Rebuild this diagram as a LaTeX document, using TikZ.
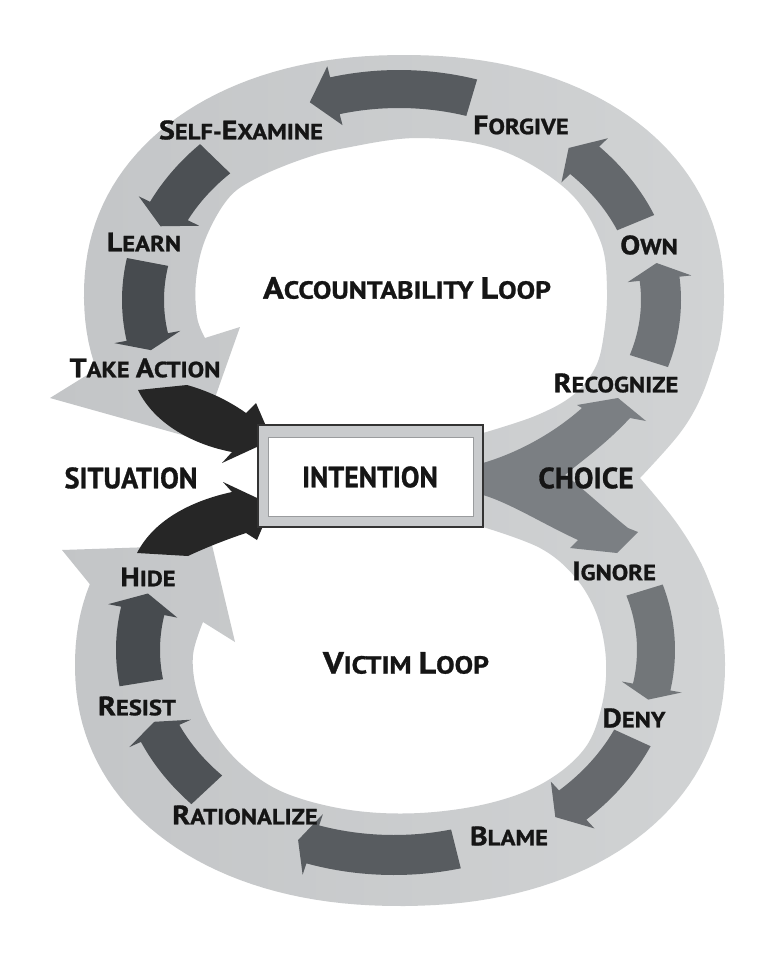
\documentclass[tikz,border=0pt]{standalone}
\usepackage{graphicx}
\usepackage{fontspec}
\setmainfont{PT Sans}[BoldFeatures={FakeBold=1}]
\definecolor{band}{HTML}{C9CBCD}
\definecolor{bandL}{HTML}{C3C5C7}
\definecolor{bandR}{HTML}{D1D3D4}
\definecolor{txt}{HTML}{151515}
\definecolor{blk}{HTML}{262626}
\definecolor{boxline}{HTML}{333333}
\definecolor{innerline}{HTML}{9A9C9E}
\definecolor{chc}{HTML}{7B7F83}
\definecolor{aA}{HTML}{6F7377}
\definecolor{aB}{HTML}{64686C}
\definecolor{aC}{HTML}{575B5F}
\definecolor{aD}{HTML}{4C5054}
\definecolor{aE}{HTML}{474B4F}
\definecolor{aF}{HTML}{727679}
\definecolor{aG}{HTML}{66696D}
\definecolor{aH}{HTML}{585C60}
\definecolor{aI}{HTML}{4E5256}
% curved block arrow along an ellipse: style, cx, cy, rx, ry, t start, t head base, t tip, half width
\newcommand\carr[9]{%
  \fill[#1] plot[domain=#6:#7,samples=24] ({#2+(#4+#9)*cos(\x)},{#3+(#5+#9)*sin(\x)})
   -- ({#2+(#4+1.6*#9)*cos(#7)},{#3+(#5+1.6*#9)*sin(#7)})
   -- ({#2+#4*cos(#8)},{#3+#5*sin(#8)})
   -- ({#2+(#4-1.6*#9)*cos(#7)},{#3+(#5-1.6*#9)*sin(#7)})
   -- plot[domain=#7:#6,samples=24] ({#2+(#4-#9)*cos(\x)},{#3+(#5-#9)*sin(\x)}) -- cycle;}
\newcommand\Bc[1]{{\fontsize{20}{22}\selectfont #1}}
\newcommand\Bt[1]{{\fontsize{23}{24}\selectfont #1}}
\newcommand\Lb[1]{\scalebox{1.12}[1]{#1}}
\begin{document}
\begin{tikzpicture}[x=0.75pt,y=-0.75pt,
  lbl/.style={font=\fontsize{16.5}{20}\selectfont\bfseries,text=txt,inner sep=0pt},
  ttl/.style={font=\fontsize{18.5}{22}\selectfont\bfseries,text=txt,inner sep=0pt},
  big/.style={font=\fontsize{22}{24}\selectfont\bfseries,text=txt,inner sep=0pt}]
\fill[white] (0,0) rectangle (774,960);
\path[use as bounding box] (0,0) rectangle (774,960);
% light figure-eight band
\shade[left color=bandL, right color=bandR] (50,398) -- (100,367)
  -- plot[domain=163:372,samples=90] ({404+320*cos(\x)*pow(abs(cos(\x))+0.001,-0.07)},{295+240*sin(\x)*pow(abs(sin(\x))+0.001,-0.07)})
  -- plot[smooth,tension=0.6] coordinates {(717,351) (702,395) (680,433) (640,478)}
  -- plot[smooth,tension=0.6] coordinates {(640,478) (676,522) (702,565) (719,609)}
  -- plot[domain=-12:198,samples=90] ({400+325*cos(\x)*pow(abs(cos(\x))+0.001,-0.07)},{665+241*sin(\x)*pow(abs(sin(\x))+0.001,-0.07)})
  -- (62,550) -- (212,545) -- (235,642) -- (203,622)
  -- plot[smooth,tension=0.6] coordinates {(203,622) (193,655) (197,692) (213,730) (242,765) (285,793) (350,810) (420,813) (490,803) (545,782) (585,748) (602,705) (606,660) (597,615) (575,577) (540,548) (483,527)}
  -- (483,433)
  -- plot[smooth,tension=0.6] coordinates {(483,433) (535,416) (572,396) (594,370) (603,340) (607,290) (600,240) (567,190) (500,150) (420,138) (345,148) (300,160) (253,180) (227,200) (205,240) (196,280) (197,317) (205,338)}
  -- (240,327) -- (200,440) -- cycle;
% accountability loop arrows
\carr{aA}{399}{300}{262}{203}{17.5}{-6}{-10.5}{20}
\carr{aB}{399}{300}{256}{203}{-22.4}{-43.5}{-48.5}{20}
\carr{aC}{399}{300}{256}{211}{-73.5}{-104.5}{-110.4}{19}
\carr{aD}{399}{300}{256}{203}{-135.9}{-154}{-158.7}{21}
\carr{aE}{399}{300}{256}{203}{-169.2}{-190.5}{-194.3}{21}
% victim loop arrows
\carr{aF}{394}{650}{262}{205}{-17}{10.4}{14}{19}
\carr{aG}{394}{650}{262}{212}{24.5}{47}{52}{20}
\carr{aH}{394}{650}{256}{205}{76}{108.5}{112}{20}
\carr{aI}{394}{650}{256}{205}{137}{156}{159.5}{21}
\carr{aE}{394}{650}{256}{205}{170.8}{191}{196}{22}
% choice arrows
\fill[chc] (483,463) .. controls (520,452) and (555,432) .. (582,408) -- (577,405) -- (618,398) -- (646,421) -- (630,418)
  .. controls (605,445) and (580,462) .. (565,475)
  .. controls (585,490) and (608,512) .. (628,528) -- (638,532) -- (617,553) -- (570,548) -- (578,540)
  .. controls (545,525) and (510,503) .. (483,495) -- cycle;
% black arrows into intention
\fill[blk] (138,390) -- (187,385) .. controls (212,392) and (232,403) .. (246,413) -- (256,403) -- (272,440) -- (222,463) -- (232,452)
  .. controls (195,445) and (155,425) .. (138,390) -- cycle;
\fill[blk] (137,553) .. controls (155,518) and (195,500) .. (232,492) -- (223,482) -- (272,505) -- (257,540) -- (246,533)
  .. controls (225,540) and (205,548) .. (188,556) -- cycle;
% intention box
\draw[boxline, line width=1.1pt, fill=band] (258,425) rectangle (483,527);
\draw[innerline, line width=0.5pt, fill=white] (268,437) rectangle (473,516);
% labels
\node[lbl] (selfexamine) at (241,130) {\Lb{\Bc{S}ELF-\Bc{E}XAMINE}};
\node[lbl] (forgive) at (521,125) {\Lb{\Bc{F}ORGIVE}};
\node[lbl] (learn) at (144,242) {\Lb{\Bc{L}EARN}};
\node[lbl] (own) at (649,245) {\Lb{\Bc{O}WN}};
\node[ttl] (accloop) at (407,288) {\Lb{\Bt{A}CCOUNTABILITY \Bt{L}OOP}};
\node[lbl] (takeaction) at (145,368) {\Lb{\Bc{T}AKE \Bc{A}CTION}};
\node[lbl] (recognize) at (616,383) {\Lb{\Bc{R}ECOGNIZE}};
\node[big] (situation) at (131,478) {\scalebox{0.96}[1]{SITUATION}};
\node[big] (intention) at (370,477) {\scalebox{0.95}[1]{INTENTION}};
\node[big] (choice) at (586,478) {\scalebox{1.0}[1]{CHOICE}};
\node[lbl] (ignore) at (614,571) {\Lb{\Bc{I}GNORE}};
\node[lbl] (hide) at (148,577) {\Lb{\Bc{H}IDE}};
\node[ttl] (victimloop) at (406,663) {\Lb{\Bt{V}ICTIM \Bt{L}OOP}};
\node[lbl] (resist) at (137,706) {\Lb{\Bc{R}ESIST}};
\node[lbl] (deny) at (634,718) {\Lb{\Bc{D}ENY}};
\node[lbl] (rationalize) at (245,815) {\Lb{\Bc{R}ATIONALIZE}};
\node[lbl] (blame) at (509,836) {\Lb{\Bc{B}LAME}};
\end{tikzpicture}
\end{document}
